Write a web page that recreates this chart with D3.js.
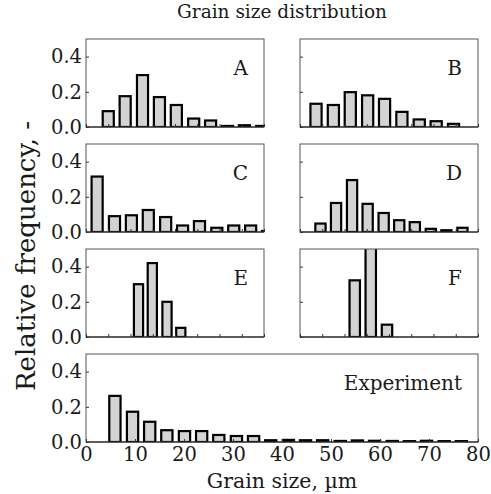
<!DOCTYPE html>
<meta charset="utf-8">
<style>
body { margin: 0; background: #fff; }
.axis path { display: none; }
.axis line { stroke: #333; }
</style>
<body>
<svg width="491" height="494"></svg>
<script src="https://cdnjs.cloudflare.com/ajax/libs/d3/7.8.5/d3.min.js"></script>
<script>
// bin centres (µm) and relative frequencies
var sizeA = [5.0, 8.8, 12.7, 16.5, 20.3, 24.2, 28.0, 31.8, 35.6, 39.5],
    freqA = [0.090, 0.175, 0.295, 0.170, 0.125, 0.048, 0.037, 0.006, 0.010, 0.006],
    binA = 3.83;
var sizeB = [3.6, 7.5, 11.3, 15.2, 19.0, 22.9, 26.8, 30.6, 34.5],
    freqB = [0.132, 0.125, 0.198, 0.180, 0.160, 0.086, 0.043, 0.033, 0.018],
    binB = 3.86;
var sizeC = [2.5, 6.4, 10.2, 14.0, 17.9, 21.7, 25.5, 29.4, 33.2, 37.0, 40.8],
    freqC = [0.315, 0.090, 0.095, 0.125, 0.085, 0.037, 0.062, 0.024, 0.037, 0.037, 0.006],
    binC = 3.83;
var sizeD = [4.6, 8.1, 11.7, 15.2, 18.8, 22.3, 25.8, 29.4, 32.9, 36.5],
    freqD = [0.048, 0.165, 0.295, 0.160, 0.108, 0.067, 0.056, 0.018, 0.010, 0.024],
    binD = 3.54;
var sizeE = [11.8, 14.9, 18.2, 21.3],
    freqE = [0.300, 0.420, 0.200, 0.052],
    binE = 3.18;
var sizeF = [12.3, 15.9, 19.55],
    freqF = [0.322, 0.550, 0.070],
    binF = 3.6;
var sizeExp = [5.9, 9.5, 13.0, 16.5, 20.1, 23.6, 27.1, 30.7, 34.2, 37.7, 41.3,
               44.8, 48.3, 51.9, 55.4, 58.9, 62.5, 66.0, 69.5, 73.1, 76.6],
    freqExp = [0.262, 0.172, 0.115, 0.067, 0.062, 0.062, 0.040, 0.034, 0.034, 0.010, 0.012,
               0.010, 0.010, 0.006, 0.009, 0.007, 0.006, 0.005, 0.007, 0.005, 0.005],
    binExp = 3.535;

var yTicks = [0, 0.2, 0.4],
    xTicksSmall = [0, 5, 10, 15, 20, 25, 30, 35, 40],
    xTicksExp = [0, 10, 20, 30, 40, 50, 60, 70, 80];

var serif = "'DejaVu Serif', 'Liberation Serif', serif";

var svg = d3.select("svg");

var colX = [86, 300], colW = 178,
    rowY = [39, 144, 249, 354], rowH = 88;

var panels = [
  {label: "A", size: sizeA, freq: freqA, bin: binA, col: 0, row: 0},
  {label: "B", size: sizeB, freq: freqB, bin: binB, col: 1, row: 0},
  {label: "C", size: sizeC, freq: freqC, bin: binC, col: 0, row: 1},
  {label: "D", size: sizeD, freq: freqD, bin: binD, col: 1, row: 1},
  {label: "E", size: sizeE, freq: freqE, bin: binE, col: 0, row: 2},
  {label: "F", size: sizeF, freq: freqF, bin: binF, col: 1, row: 2},
  {label: "Experiment", size: sizeExp, freq: freqExp, bin: binExp, col: 0, row: 3, wide: true}
];

panels.forEach(function(p, i) {
  var left = colX[p.col],
      w = p.wide ? colX[1] + colW - colX[0] : colW,
      top = rowY[p.row];

  var x = d3.scaleLinear().domain(p.wide ? [0, 80] : [0, 40]).range([0, w]),
      y = d3.scaleLinear().domain([0, 0.5]).range([rowH, 0]);

  var g = svg.append("g").attr("transform", "translate(" + left + "," + top + ")");

  svg.append("clipPath").attr("id", "clip" + i)
    .append("rect").attr("width", w).attr("height", rowH);

  g.append("g")
      .attr("clip-path", "url(#clip" + i + ")")
    .selectAll("rect")
    .data(p.size)
    .enter().append("rect")
      .attr("x", function(d) { return x(d - p.bin * 0.325); })
      .attr("width", x(p.bin * 0.65) - x(0))
      .attr("y", function(d, j) { return y(p.freq[j]); })
      .attr("height", function(d, j) { return rowH - y(p.freq[j]); })
      .attr("fill", "#d3d3d3")
      .attr("stroke", "#000")
      .attr("stroke-width", 2.2);

  // frame
  g.append("rect")
      .attr("width", w).attr("height", rowH)
      .attr("fill", "none").attr("stroke", "#555").attr("stroke-width", 1);
  g.append("line")
      .attr("x1", 0).attr("x2", w).attr("y1", rowH).attr("y2", rowH)
      .attr("stroke", "#111").attr("stroke-width", 1.2);

  var ya = d3.axisLeft(y).tickValues(yTicks).tickSizeInner(-3).tickSizeOuter(0).tickPadding(4)
      .tickFormat(p.col === 0 ? d3.format(".1f") : function() { return ""; });
  g.append("g").attr("class", "axis").call(ya)
    .selectAll("text").style("font-size", "19.5px");

  var xa = d3.axisBottom(x).tickValues(p.wide ? xTicksExp : xTicksSmall)
      .tickSizeInner(-3).tickSizeOuter(0).tickPadding(5)
      .tickFormat(p.wide ? d3.format("d") : function() { return ""; });
  g.append("g").attr("class", "axis").attr("transform", "translate(0," + rowH + ")").call(xa)
    .selectAll("text").style("font-size", "19.5px");

  g.append("text")
      .attr("x", w - 16)
      .attr("y", 36)
      .attr("text-anchor", "end")
      .style("font-size", "20px")
      .text(p.label);
});

svg.append("text")
    .attr("x", 282).attr("y", 18)
    .attr("text-anchor", "middle")
    .style("font-size", "18.5px")
    .text("Grain size distribution");

svg.append("text")
    .attr("x", 282).attr("y", 488)
    .attr("text-anchor", "middle")
    .style("font-size", "20.5px")
    .text("Grain size, \u00b5m");

svg.append("text")
    .attr("transform", "translate(35,256) rotate(-90)")
    .attr("text-anchor", "middle")
    .style("font-size", "26px")
    .text("Relative frequency, -");

svg.selectAll("text").style("font-family", serif).style("fill", "#1a1a1a");
</script>
</body>
